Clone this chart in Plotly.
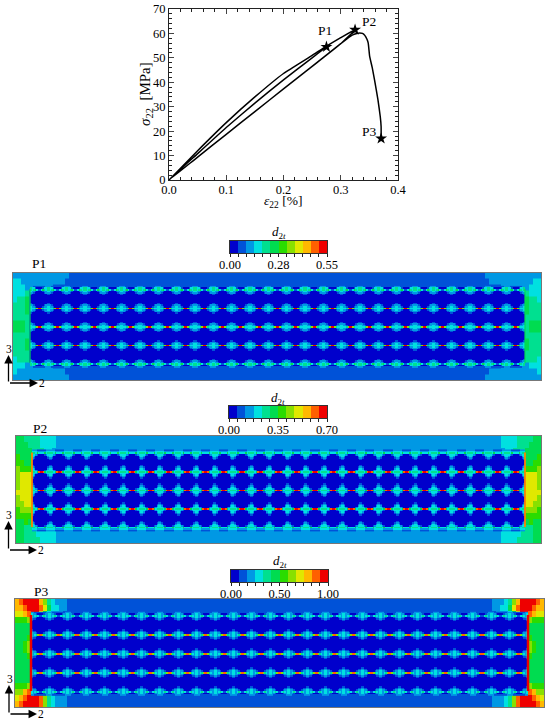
import numpy as np
import plotly.graph_objects as go

W, H = 550, 723
SERIF = "Liberation Serif"

# stress-strain curve, one pass of load / unload / reload / failure
strain = [0.0, 0.05, 0.1, 0.15, 0.2, 0.25, 0.275, 0.30, 0.325,
          0.30, 0.25, 0.2, 0.15, 0.1, 0.05, 0.0,
          0.05, 0.1, 0.15, 0.2, 0.25, 0.275,
          0.25, 0.2, 0.15, 0.1, 0.05, 0.0,
          0.05, 0.1, 0.15, 0.2, 0.25, 0.3, 0.32, 0.328, 0.333, 0.338, 0.342, 0.346, 0.348, 0.3505,
          0.355, 0.359, 0.365, 0.369, 0.3705, 0.3705]
stress = [0.0, 12.0, 23.5, 34.0, 43.6, 51.0, 54.8, 58.3, 61.5,
          55.8, 46.5, 37.3, 28.0, 18.7, 9.4, 0.0,
          10.8, 21.5, 31.5, 41.0, 50.0, 54.5,
          50.0, 41.0, 31.5, 21.5, 10.8, 0.0,
          9.4, 18.7, 28.0, 37.3, 46.5, 55.8, 59.3, 60.0, 60.2, 60.0, 59.2, 57.5, 56.0, 50.6,
          46.0, 41.0, 32.8, 26.0, 21.9, 17.0]
point_names = ["P1", "P2", "P3"]
point_strain = [0.275, 0.325, 0.3705]
point_stress = [54.5, 61.5, 17.0]

# damage levels as one hex digit per cell, 0 = lowest band, b = highest band
band_colors = ["#0000cc", "#0052d8", "#0098e4", "#00e0e0", "#00e090", "#00dc50",
               "#2adc00", "#88e000", "#e0e800", "#ffb800", "#ff6000", "#ee0000"]
bar_levels = [0, 1, 2, 3, 4, 5, 6, 7, 8, 9, 10, 11]
bar_labels = [["0.00", "0.28", "0.55"], ["0.00", "0.35", "0.70"], ["0.00", "0.50", "1.00"]]

p1_end = ["222222222222221", "332222222222211", "333222222211111",
          "333411111111111", "344511111111111", "444511111111111",
          "444511111111111", "444411111111111", "555411111111111",
          "555411111111111", "444411111111111", "444511111111111",
          "444511111111111", "444411111111111", "344411111111111",
          "333222222211111", "322222222222211", "222222222222221"]
p2_end = ["554444333322222", "555444333322222", "555544433222222",
          "655522222222222", "665522222222222", "766622222222222",
          "788822222222222", "788822222222222", "788822222222222",
          "888822222222222", "788822222222222", "778822222222222",
          "677722222222222", "666622222222222", "556522222222222",
          "554433322222222", "554443333322222", "554444333322222"]
p3_end = ["9abbbb974322211", "99abbba85332211", "889abb853222111",
          "666711111111111", "555511111111111", "555511111111111",
          "555611111111111", "556711111111111", "556711111111111",
          "555611111111111", "555511111111111", "555511111111111",
          "555511111111111", "555511111111111", "666711111111111",
          "779abb743221111", "89abbba74322211", "9abbbba74322211"]

# one fibre cell, row 0 is the gap between two fibre rows
p1_cell = ["33347bb74333", "322100001223", "221000000122", "100000000001",
           "000000000000", "000000000000", "000000000000", "000000000000",
           "000000000000", "100000000001", "221000000122", "322100001223"]
p2_cell = ["4435abba5344", "332100001233", "320000000023", "210000000012",
           "100000000001", "000000000000", "000000000000", "000000000000",
           "100000000001", "210000000012", "320000000023", "332100001233"]
p3_cell = ["32347aa74323", "322100001223", "211000000112", "100000000001",
           "000000000000", "000000000000", "000000000000", "000000000000",
           "000000000000", "100000000001", "211000000112", "322100001223"]
# rows between the fibre block and the outer strip
p1_cap = ["221111111122", "433100001334", "434531135434"]
p2_cap = ["222111111222", "333222222333", "443533335344"]
p3_cap = ["221111111122", "322100001223", "323431134323"]


def rows_to_z(rows):
    return np.array([[int(c, 16) for c in row] for row in rows])


def discrete_scale(colors):
    n = len(colors)
    scale = []
    for i, c in enumerate(colors):
        scale.append([i / n, c])
        scale.append([(i + 1) / n, c])
    return scale


def pos_x(px):
    return px / W


def pos_y(px):
    return 1 - px / H


def page_text(x, y, text, size, angle=0):
    return dict(xref="paper", yref="paper", x=pos_x(x), y=pos_y(y), text=text, showarrow=False,
                xanchor="center", yanchor="middle", textangle=angle,
                font=dict(family=SERIF, size=size, color="black"))


def page_arrow(x, y, ax, ay):
    return dict(xref="paper", yref="paper", x=pos_x(x), y=pos_y(y), ax=ax, ay=ay, text="",
                showarrow=True, arrowhead=2, arrowsize=1.3, arrowwidth=1.3, arrowcolor="black")


SCALE = discrete_scale(band_colors)
fig = go.Figure()
layout = {}
ann = []


def px_axes(n, x0, x1, y0, y1):
    # axes in page pixels, so a panel is placed where it sits in the picture
    layout[f"xaxis{n}"] = dict(domain=[pos_x(x0), pos_x(x1)], range=[x0, x1], anchor=f"y{n}",
                               showticklabels=False, ticks="", showgrid=False, zeroline=False,
                               showline=True, mirror=True, linecolor="#777777", linewidth=1,
                               automargin=False)
    layout[f"yaxis{n}"] = dict(domain=[pos_y(y1), pos_y(y0)], range=[y1, y0], anchor=f"x{n}",
                               showticklabels=False, ticks="", showgrid=False, zeroline=False,
                               showline=True, mirror=True, linecolor="#777777", linewidth=1,
                               automargin=False)


def add_panel(n, box, block, end_rows, cell, cap, edge_color, edge_width, name, name_xy, triad):
    x0, x1, y0, y1 = box
    fx0, fx1, fy0, fy1 = block
    px_axes(n, x0, x1, y0, y1)

    # end zones and the outer strip
    ends = rows_to_z(end_rows)
    mid = ends[:, -1:]
    z = np.hstack([ends, mid, ends[:, ::-1]])
    step = 4
    left = [x0 + step * i for i in range(ends.shape[1] + 1)]
    right = [x1 - step * i for i in range(ends.shape[1], -1, -1)]
    y_edges = np.linspace(y0, y1, ends.shape[0] + 1)
    fig.add_trace(go.Heatmap(z=z, x=left + right, y=y_edges, zmin=-0.5, zmax=11.5,
                             colorscale=SCALE, showscale=False, xaxis=f"x{n}", yaxis=f"y{n}"))

    # fibre block, built by repeating the fibre cell
    c = rows_to_z(cell)
    cap_z = rows_to_z(cap)
    body = np.vstack([c] * 4)
    body[0] = cap_z[-1]
    bottom = cap_z[::-1]
    tile = np.vstack([cap_z[:-1], body, bottom])
    tile = np.tile(tile, (1, 27))
    dx = (fx1 - fx0) / tile.shape[1]
    dy = (fy1 - fy0) / 48
    fig.add_trace(go.Heatmap(z=tile, x0=fx0 + dx / 2, dx=dx, y0=fy0 - 2 * dy + dy / 2, dy=dy,
                             zmin=-0.5, zmax=11.5, colorscale=SCALE, showscale=False,
                             xaxis=f"x{n}", yaxis=f"y{n}"))

    # interface lines at both ends of the fibre block
    for fx in (fx0, fx1):
        fig.add_trace(go.Scatter(x=[fx, fx], y=[fy0, fy1], mode="lines",
                                 line=dict(color=edge_color, width=edge_width),
                                 xaxis=f"x{n}", yaxis=f"y{n}"))

    ann.append(page_text(name_xy[0], name_xy[1], name, 13.5))
    ox, oy, top, tip = triad
    ann.append(page_arrow(ox, top, 0, oy - top))
    ann.append(page_arrow(tip, oy, ox - tip, 0))
    ann.append(page_text(ox + 0.5, top - 6, "3", 11.5))
    ann.append(page_text(tip + 4, oy, "2", 11.5))


def add_bar(n, x0, x1, y0, y1, labels, title_y):
    fig.add_trace(go.Heatmap(z=[bar_levels], x=[i + 0.5 for i in bar_levels], y=[0], zmin=-0.5, zmax=11.5,
                             colorscale=SCALE, showscale=False, xaxis=f"x{n}", yaxis=f"y{n}"))
    layout[f"xaxis{n}"] = dict(domain=[pos_x(x0), pos_x(x1)], range=[0, 12], anchor=f"y{n}",
                               tickmode="array", tickvals=[0, 6, 12], ticktext=labels,
                               ticks="outside", ticklen=3, tickwidth=1, tickcolor="#222222",
                               ticklabelstandoff=-3,
                               minor=dict(dtick=1, ticks="outside", ticklen=3, tickcolor="#222222"),
                               tickfont=dict(family=SERIF, size=12.5, color="black"),
                               showgrid=False, zeroline=False, showline=True, mirror=True,
                               linecolor="#333333", linewidth=1, automargin=False)
    layout[f"yaxis{n}"] = dict(domain=[pos_y(y1), pos_y(y0)], range=[-0.5, 0.5], anchor=f"x{n}",
                               showticklabels=False, ticks="", showgrid=False, zeroline=False,
                               showline=True, mirror=True, linecolor="#333333", linewidth=1,
                               automargin=False)
    ann.append(page_text((x0 + x1) / 2, title_y, "<i>d</i><sub>2<i>t</i></sub>", 13))


# curve plot
fig.add_trace(go.Scatter(x=strain, y=stress, mode="lines",
                         line=dict(color="black", width=1.5, shape="spline", smoothing=0.4)))
fig.add_trace(go.Scatter(x=point_strain, y=point_stress, mode="markers",
                         marker=dict(symbol="star", size=9, color="black")))
layout["xaxis"] = dict(domain=[pos_x(169), pos_x(398)], range=[0, 0.4], dtick=0.1, tickformat=".1f",
                       ticks="inside", ticklen=5, tickwidth=1, mirror="allticks", showline=True,
                       linecolor="#222222", linewidth=1, showgrid=False, zeroline=False, automargin=False,
                       ticklabelstandoff=-2,
                       minor=dict(dtick=0.02, ticks="inside", ticklen=3, tickcolor="#222222"),
                       tickfont=dict(family=SERIF, size=12.5, color="black"))
layout["yaxis"] = dict(domain=[pos_y(180), pos_y(9)], range=[0, 70], dtick=10,
                       ticks="inside", ticklen=5, tickwidth=1, mirror="allticks", showline=True,
                       linecolor="#222222", linewidth=1, showgrid=False, zeroline=False, automargin=False,
                       minor=dict(dtick=2, ticks="inside", ticklen=3, tickcolor="#222222"),
                       tickfont=dict(family=SERIF, size=12.5, color="black"))
ann.append(page_text(283, 201, "<i>ε</i><sub>22</sub> [%]", 13.5))
ann.append(page_text(146, 94, "<i>σ</i><sub>22</sub>  [MPa]", 15, angle=-90))
for name, x, y, dx, dy in zip(point_names, point_strain, point_stress, [-0.002, 0.024, -0.02], [6.5, 3.5, 3]):
    ann.append(dict(x=x + dx, y=y + dy, text=name, showarrow=False,
                    font=dict(family=SERIF, size=13.5, color="black")))

# contour panels
add_panel(2, (13, 541, 272.5, 380), (30, 525, 289, 363), p1_end, p1_cell, p1_cap, "#00dc50", 1.2,
          "P1", (39, 263), (8.5, 383, 355, 38))
add_panel(3, (16, 541, 436, 543), (32, 525, 452.5, 527), p2_end, p2_cell, p2_cap, "#ff8000", 1.8,
          "P2", (40, 428), (8.5, 550, 521, 37))
add_panel(4, (15, 544, 599, 707), (31, 528, 615, 691), p3_end, p3_cell, p3_cap, "#ee0000", 2.5,
          "P3", (41, 591), (9, 714, 685, 37))

add_bar(5, 230, 327, 241, 253, bar_labels[0], 233)
add_bar(6, 229, 327, 406, 418, bar_labels[1], 398)
add_bar(7, 231, 328, 570, 582, bar_labels[2], 561)

fig.update_layout(width=W, height=H, margin=dict(l=0, r=0, t=0, b=0), showlegend=False,
                  paper_bgcolor="white", plot_bgcolor="white", annotations=ann, **layout)

fig.write_html("out.html", config={"displayModeBar": False},
               post_script="document.body.style.margin='0';document.body.style.overflow='hidden';")
